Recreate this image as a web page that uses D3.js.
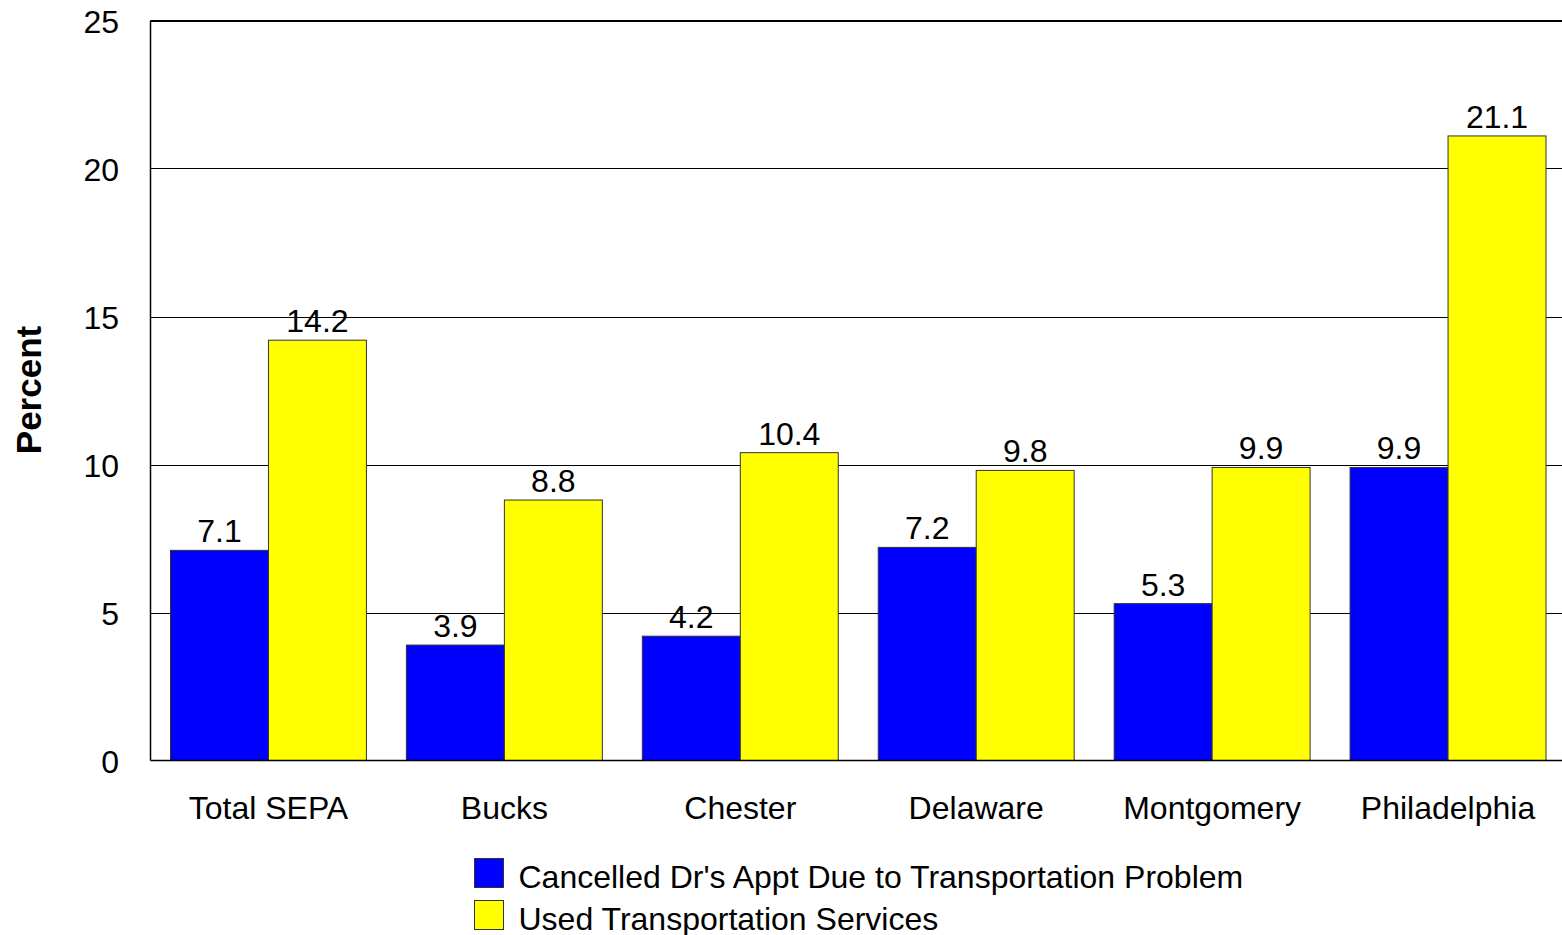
<!DOCTYPE html>
<html lang="en">
<head>
<meta charset="utf-8">
<title>Transportation</title>
<script src="https://cdnjs.cloudflare.com/ajax/libs/d3/7.8.5/d3.min.js"></script>
<style>
  body { margin: 0; background: white; }
  svg text { font-family: "Liberation Sans", Arial, sans-serif; fill: black; }
</style>
</head>
<body>
<div id="chart"></div>
<script>
const categories = ["Total SEPA", "Bucks", "Chester", "Delaware", "Montgomery", "Philadelphia"];
const seriesNames = ["Cancelled Dr's Appt Due to Transportation Problem", "Used Transportation Services"];
const cancelled = [7.1, 3.9, 4.2, 7.2, 5.3, 9.9];
const usedServices = [14.2, 8.8, 10.4, 9.8, 9.9, 21.1];
const yTicks = [0, 5, 10, 15, 20, 25];
const colors = ["#0000ff", "#ffff00"];

const width = 1562, height = 935;
const plotLeft = 150.5, plotTop = 20.5, plotBottom = 760.5, plotRight = 1566;
const fs = 32;

const svg = d3.select("#chart").append("svg")
  .attr("width", width).attr("height", height);

const x = d3.scaleBand().domain(categories).range([plotLeft, plotRight]).paddingInner(0).paddingOuter(0);
const inner = 20 / 236;
const x1 = d3.scaleBand().domain([0, 1]).range([x.bandwidth() * inner, x.bandwidth() * (1 - inner)]);
const y = d3.scaleLinear().domain([0, 25]).range([plotBottom, plotTop]);

// gridlines
svg.append("g").selectAll("line").data(yTicks.filter(d => d > 0)).join("line")
  .attr("x1", plotLeft).attr("x2", width)
  .attr("y1", d => Math.round(y(d)) + 0.5).attr("y2", d => Math.round(y(d)) + 0.5)
  .attr("stroke", "black").attr("stroke-width", 1);

// y axis labels
svg.append("g").selectAll("text").data(yTicks).join("text")
  .attr("x", 119).attr("y", d => y(d) + 1)
  .attr("dy", "0.35em").attr("text-anchor", "end")
  .attr("font-size", fs).text(d => d);

svg.append("text")
  .attr("transform", "translate(41,390) rotate(-90)")
  .attr("text-anchor", "middle").attr("font-size", 35).attr("font-weight", "bold")
  .text("Percent");

const data = categories.map((c, i) => ({ cat: c, vals: [cancelled[i], usedServices[i]] }));

const groups = svg.append("g").selectAll("g").data(data).join("g")
  .attr("transform", d => `translate(${x(d.cat)},0)`);

groups.selectAll("rect").data(d => d.vals.map((v, k) => ({ v, k }))).join("rect")
  .attr("x", d => x1(d.k)).attr("width", x1.bandwidth())
  .attr("y", d => y(d.v)).attr("height", d => plotBottom - y(d.v))
  .attr("fill", d => colors[d.k]).attr("stroke", "#333").attr("stroke-width", 1);

groups.selectAll("text").data(d => d.vals.map((v, k) => ({ v, k }))).join("text")
  .attr("x", d => x1(d.k) + x1.bandwidth() / 2).attr("y", d => y(d.v) - 8)
  .attr("text-anchor", "middle").attr("font-size", fs)
  .text(d => d.v.toFixed(1));

// axis lines
svg.append("line").attr("x1", plotLeft).attr("x2", plotLeft).attr("y1", plotTop).attr("y2", plotBottom)
  .attr("stroke", "black").attr("stroke-width", 1.5);
svg.append("line").attr("x1", plotLeft).attr("x2", width).attr("y1", plotBottom).attr("y2", plotBottom)
  .attr("stroke", "black").attr("stroke-width", 1.5);
svg.append("line").attr("x1", plotLeft).attr("x2", width).attr("y1", plotTop).attr("y2", plotTop)
  .attr("stroke", "black").attr("stroke-width", 1);

// category labels
svg.append("g").selectAll("text").data(categories).join("text")
  .attr("x", d => x(d) + x.bandwidth() / 2).attr("y", 819)
  .attr("text-anchor", "middle").attr("font-size", fs).text(d => d);

// legend
const legend = svg.append("g").selectAll("g").data(seriesNames).join("g")
  .attr("transform", (d, i) => `translate(474.5,${858.5 + i * 42})`);
legend.append("rect").attr("width", 29).attr("height", 29)
  .attr("fill", (d, i) => colors[i]).attr("stroke", "#333");
legend.append("text").attr("x", 44).attr("y", 29)
  .attr("font-size", fs).text(d => d);
</script>
</body>
</html>
